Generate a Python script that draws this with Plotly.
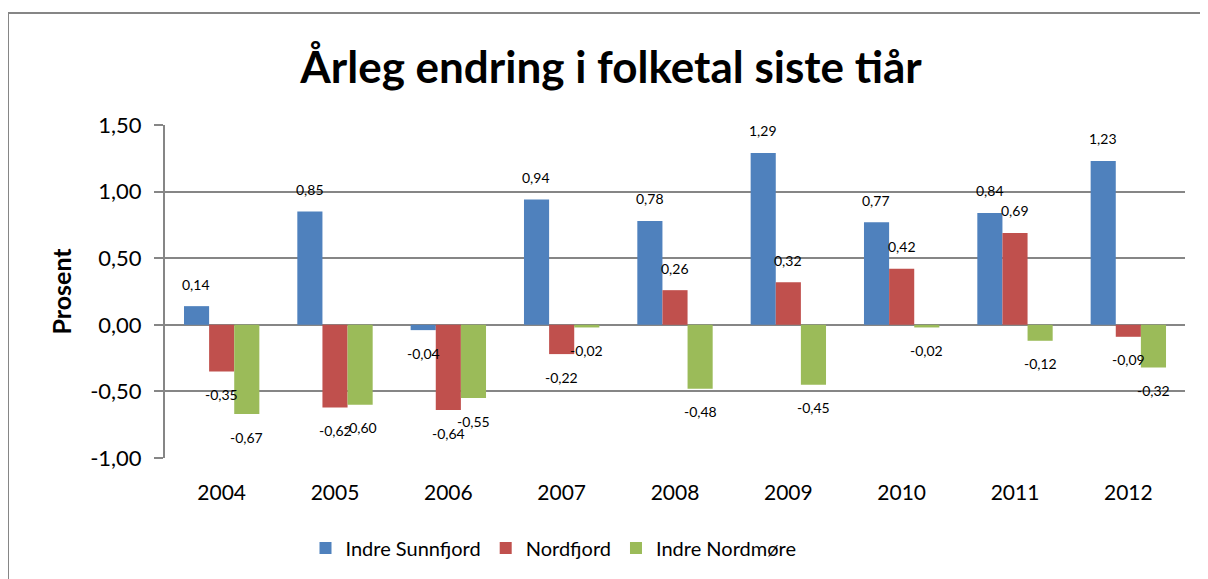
import plotly.graph_objects as go

years = ["2004", "2005", "2006", "2007", "2008", "2009", "2010", "2011", "2012"]
series_names = ["Indre Sunnfjord", "Nordfjord", "Indre Nordmøre"]
indre_sunnfjord = [0.14, 0.85, -0.04, 0.94, 0.78, 1.29, 0.77, 0.84, 1.23]
nordfjord = [-0.35, -0.62, -0.64, -0.22, 0.26, 0.32, 0.42, 0.69, -0.09]
indre_nordmore = [-0.67, -0.60, -0.55, -0.02, -0.48, -0.45, -0.02, -0.12, -0.32]
y_ticks = [-1.0, -0.5, 0.0, 0.5, 1.0, 1.5]
y_tick_labels = ["-1,00", "-0,50", "0,00", "0,50", "1,00", "1,50"]

colors = ["#4F81BD", "#C0504D", "#9BBB59"]
all_series = [indre_sunnfjord, nordfjord, indre_nordmore]
FONT = "Lato"

# page body adds an 8px offset; compensate
OFF = 8
W, H = 1208 - OFF, 579 - OFF
L, T = 165 - OFF, 125 - OFF
pw, ph = 1020, 333
R = W - L - pw
B = H - T - ph

fig = go.Figure()
for name, vals, col in zip(series_names, all_series, colors):
    fig.add_trace(go.Bar(
        x=years, y=vals, name=name,
        marker=dict(color=col, line=dict(width=0)),
    ))

def fmt(v):
    return f"{v:.2f}".replace(".", ",")

bar_w = 25.2
annotations = []
for i, vals in enumerate(all_series):
    for j, v in enumerate(vals):
        annotations.append(dict(
            x=j, y=v, xref="x", yref="y", text=fmt(v), showarrow=False,
            xshift=(i - 1) * bar_w, yshift=22 if v >= 0 else -23,
            font=dict(family=FONT, size=14, color="#000000"),
            xanchor="center", yanchor="middle",
        ))

annotations.append(dict(
    x=(60 - 165) / pw, y=0.5, xref="paper", yref="paper", text="<b>Prosent</b>",
    showarrow=False, textangle=-90, font=dict(family=FONT, size=25, color="#000000"),
    xanchor="center", yanchor="middle",
))

fig.update_layout(
    width=W, height=H,
    margin=dict(l=L, r=R, t=T, b=B, pad=0),
    paper_bgcolor="#FFFFFF", plot_bgcolor="#FFFFFF",
    barmode="group", bargap=0.335, bargroupgap=0,
    title=dict(text="<b>Årleg endring i folketal siste tiår</b>",
               x=(611 - OFF) / W, xanchor="center", y=1 - (68 - OFF) / H, yanchor="middle",
               font=dict(family=FONT, size=44, color="#000000")),
    font=dict(family=FONT, color="#000000"),
    legend=dict(orientation="h", x=(556.5 - OFF - L - 3) / pw,
                xanchor="center", y=(458 - 548) / ph, yanchor="middle",
                font=dict(family=FONT, size=20, color="#000000"),
                itemwidth=30, traceorder="normal"),
    annotations=annotations,
    showlegend=True,
    shapes=[dict(type="rect", xref="paper", yref="paper",
                 x0=(8 - 165) / pw, x1=(1230 - 165) / pw,
                 y0=(458 - 600) / ph, y1=(458 - 13) / ph,
                 line=dict(color="#868686", width=2), fillcolor="rgba(0,0,0,0)", layer="below")],
)
fig.update_xaxes(type="category", range=[-0.5, len(years) - 0.5],
                 showgrid=False, showline=False, ticks="", zeroline=False,
                 tickfont=dict(family=FONT, size=21, color="#000000"),
                 ticklabelstandoff=20)
fig.update_yaxes(range=[-1.0, 1.5], tickvals=y_ticks, ticktext=y_tick_labels,
                 showgrid=True, gridcolor="#868686", gridwidth=2,
                 zeroline=True, zerolinecolor="#868686", zerolinewidth=2,
                 showline=True, linecolor="#868686", linewidth=2,
                 ticks="outside", ticklen=9, tickcolor="#868686", tickwidth=2,
                 tickfont=dict(family=FONT, size=22, color="#000000"),
                 ticklabelstandoff=8)

fig.write_html("out.html")
